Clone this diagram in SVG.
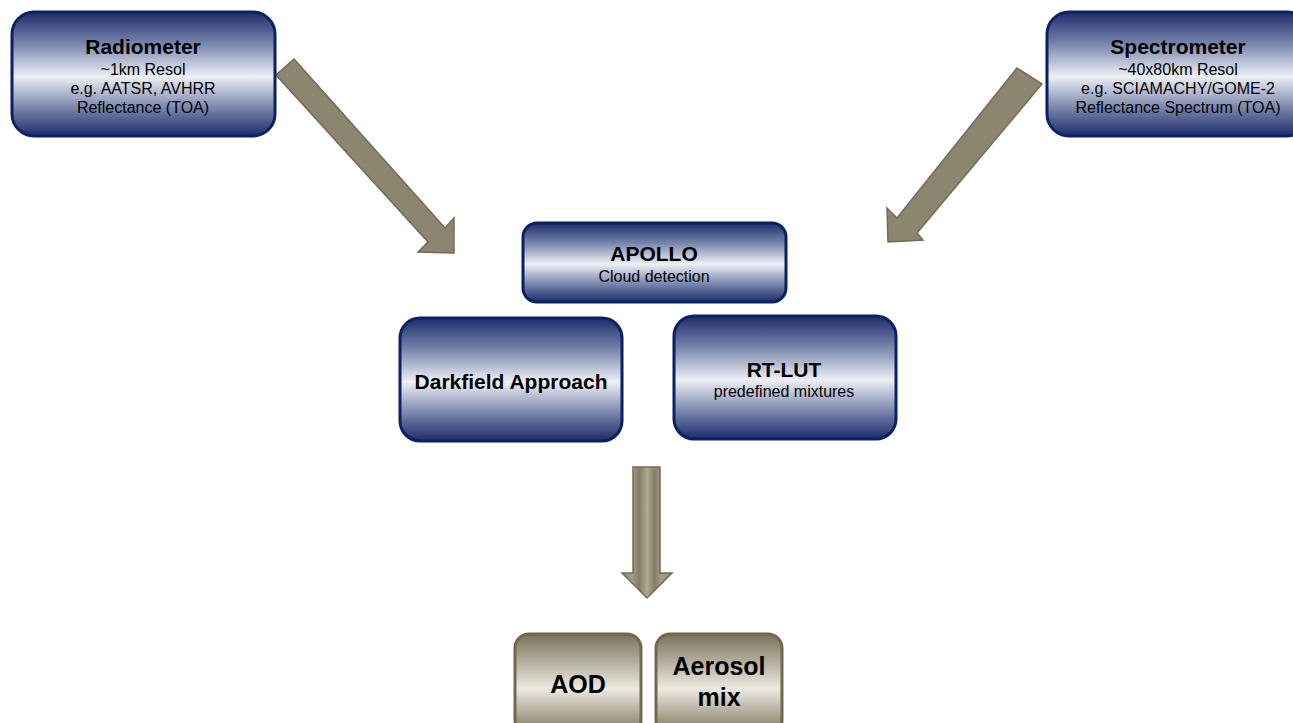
<svg xmlns="http://www.w3.org/2000/svg" width="1293" height="723" viewBox="0 0 1293 723">
<defs>
<linearGradient id="blueG" x1="0" y1="0" x2="0" y2="1">
<stop offset="0" stop-color="#1c2c6a"/>
<stop offset="0.25" stop-color="#7583ab"/>
<stop offset="0.52" stop-color="#eef0f5"/>
<stop offset="0.8" stop-color="#6d7aa4"/>
<stop offset="1" stop-color="#1c2c6a"/>
</linearGradient>
<linearGradient id="brownG" x1="0" y1="0" x2="0" y2="1">
<stop offset="0" stop-color="#7b7259"/>
<stop offset="0.55" stop-color="#ece9e2"/>
<stop offset="1" stop-color="#7b7259"/>
</linearGradient>
<linearGradient id="downG" x1="0" y1="0" x2="1" y2="0">
<stop offset="0" stop-color="#8d8670"/>
<stop offset="0.2" stop-color="#a29c86"/>
<stop offset="0.35" stop-color="#857e66"/>
<stop offset="0.5" stop-color="#b0aa96"/>
<stop offset="0.65" stop-color="#867f68"/>
<stop offset="0.8" stop-color="#a59f8a"/>
<stop offset="1" stop-color="#8d8670"/>
</linearGradient>
</defs>
<style>
.blue{fill:url(#blueG);stroke:#0b2163;stroke-width:3}
.brown{fill:url(#brownG);stroke:#71684f;stroke-width:3}
.arr{fill:#8c8570;stroke:#736b53;stroke-width:1.5}
.t{font-family:"Liberation Sans",Arial,sans-serif;text-anchor:middle;fill:#000}
.b{font-weight:bold;font-size:21px}
.s{font-size:16px}
.big{font-weight:bold;font-size:25px}
</style>
<g id="connectors">
<polygon class="arr" points="294,59 445,228 454,218 454,253 418,252 428,242 276,75"/>
<polygon class="arr" points="1017,68 897,218 887,208 888,242 923,240 917,233 1042,84"/>
<polygon fill="url(#downG)" stroke="#736b53" stroke-width="1.5" points="633,467 660,467 660,573 672,573 647,598 622,573 633,573"/>
</g>
<g id="radiometer">
<rect class="blue" x="12" y="12" width="263" height="124" rx="22"/>
<text class="t b" x="143" y="54">Radiometer</text>
<text class="t s" x="143" y="75">~1km Resol</text>
<text class="t s" x="143" y="94">e.g. AATSR, AVHRR</text>
<text class="t s" x="143" y="113">Reflectance (TOA)</text>
</g>
<g id="spectrometer">
<rect class="blue" x="1047" y="12" width="262" height="124" rx="22"/>
<text class="t b" x="1178" y="54">Spectrometer</text>
<text class="t s" x="1178" y="75">~40x80km Resol</text>
<text class="t s" x="1178" y="94">e.g. SCIAMACHY/GOME-2</text>
<text class="t s" x="1178" y="113">Reflectance Spectrum (TOA)</text>
</g>
<g id="apollo">
<rect class="blue" x="523" y="223" width="263" height="79" rx="14"/>
<text class="t b" x="654" y="261">APOLLO</text>
<text class="t s" x="654" y="282">Cloud detection</text>
</g>
<g id="darkfield">
<rect class="blue" x="400" y="318" width="222" height="123" rx="20"/>
<text class="t b" x="511" y="389">Darkfield Approach</text>
</g>
<g id="rtlut">
<rect class="blue" x="674" y="316" width="222" height="123" rx="20"/>
<text class="t b" x="784" y="377">RT-LUT</text>
<text class="t s" x="784" y="397">predefined mixtures</text>
</g>
<g id="aod">
<rect class="brown" x="515" y="634" width="126" height="100" rx="14"/>
<text class="t big" x="578" y="693">AOD</text>
</g>
<g id="aerosol">
<rect class="brown" x="656" y="634" width="126" height="100" rx="14"/>
<text class="t big" x="719" y="675">Aerosol</text>
<text class="t big" x="719" y="706">mix</text>
</g>
</svg>
